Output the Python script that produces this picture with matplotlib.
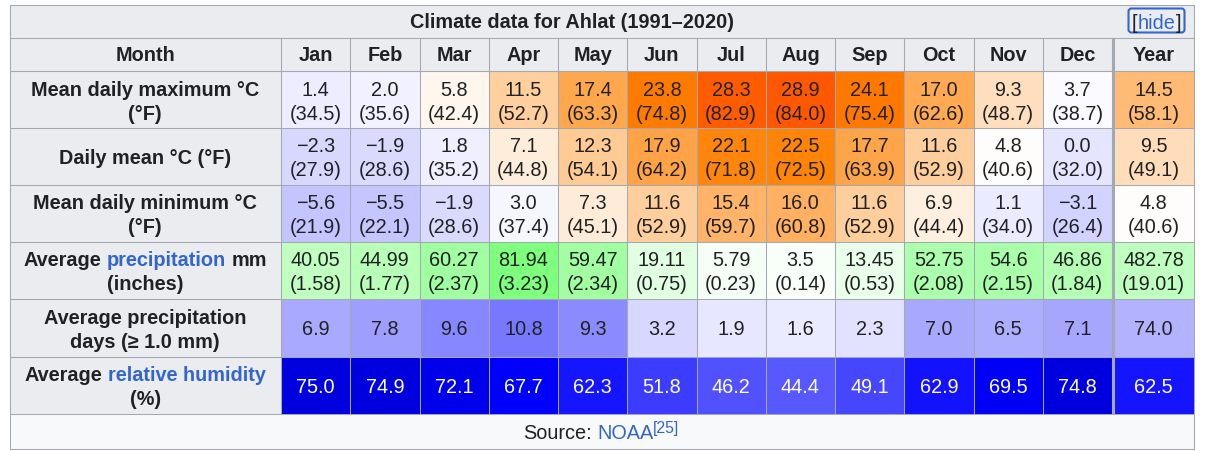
import matplotlib
matplotlib.use('Agg')
import matplotlib.pyplot as plt
from matplotlib.patches import Rectangle, FancyBboxPatch

# ---- data ----
columns = ['Jan', 'Feb', 'Mar', 'Apr', 'May', 'Jun', 'Jul', 'Aug', 'Sep', 'Oct', 'Nov', 'Dec', 'Year']
max_c = [1.4, 2.0, 5.8, 11.5, 17.4, 23.8, 28.3, 28.9, 24.1, 17.0, 9.3, 3.7, 14.5]
max_f = [34.5, 35.6, 42.4, 52.7, 63.3, 74.8, 82.9, 84.0, 75.4, 62.6, 48.7, 38.7, 58.1]
mean_c = [-2.3, -1.9, 1.8, 7.1, 12.3, 17.9, 22.1, 22.5, 17.7, 11.6, 4.8, 0.0, 9.5]
mean_f = [27.9, 28.6, 35.2, 44.8, 54.1, 64.2, 71.8, 72.5, 63.9, 52.9, 40.6, 32.0, 49.1]
min_c = [-5.6, -5.5, -1.9, 3.0, 7.3, 11.6, 15.4, 16.0, 11.6, 6.9, 1.1, -3.1, 4.8]
min_f = [21.9, 22.1, 28.6, 37.4, 45.1, 52.9, 59.7, 60.8, 52.9, 44.4, 34.0, 26.4, 40.6]
precip_mm = [40.05, 44.99, 60.27, 81.94, 59.47, 19.11, 5.79, 3.5, 13.45, 52.75, 54.6, 46.86, 482.78]
precip_in = [1.58, 1.77, 2.37, 3.23, 2.34, 0.75, 0.23, 0.14, 0.53, 2.08, 2.15, 1.84, 19.01]
precip_days = [6.9, 7.8, 9.6, 10.8, 9.3, 3.2, 1.9, 1.6, 2.3, 7.0, 6.5, 7.1, 74.0]
humidity = [75.0, 74.9, 72.1, 67.7, 62.3, 51.8, 46.2, 44.4, 49.1, 62.9, 69.5, 74.8, 62.5]

title = 'Climate data for Ahlat (1991\u20132020)'

K = '#202122'
BLUE = '#3366cc'
GRID = '#a2a9b1'
HEAD_BG = '#eaecf0'
FOOT_BG = '#f8f9fa'
FS = 14.3

plt.rcParams['font.family'] = ['Liberation Sans', 'DejaVu Sans']


def fmt1(v):
    return f'{v:.1f}'.replace('-', '\u2212')


def temp_rgb(t, year=False):
    if t < 4.5:
        v = max(0.0, 255 - (4.5 - t) * 5.8)
        return (v / 255, v / 255, 1.0)
    g = max(0.0, 255 - (t - 4.5) * 6.85)
    b = max(0.0, 255 - (t - 4.5) * 13.8)
    return (1.0, g / 255, b / 255)


def precip_rgb(mm, year=False):
    if year:
        mm = mm / 12
    v = max(0.0, 255 - mm * 1.58)
    return (v / 255, 1.0, v / 255)


def days_rgb(d, year=False):
    if year:
        d = d / 12
    v = max(0.0, 255 - d * 12.5)
    return (v / 255, v / 255, 1.0)


def hum_rgb(h, year=False):
    v = min(255.0, max(0.0, 255 - h * 3.76))
    b = 255.0 if h <= 67.8 else 255 - (h - 67.8) * 4.6
    return (v / 255, v / 255, b / 255)


rows = [
    ([[('Mean daily maximum °C', K)], [('(°F)', K)]],
     [fmt1(v) for v in max_c], ['(' + fmt1(v) + ')' for v in max_f], max_c, temp_rgb, K),
    ([[('Daily mean °C (°F)', K)]],
     [fmt1(v) for v in mean_c], ['(' + fmt1(v) + ')' for v in mean_f], mean_c, temp_rgb, K),
    ([[('Mean daily minimum °C', K)], [('(°F)', K)]],
     [fmt1(v) for v in min_c], ['(' + fmt1(v) + ')' for v in min_f], min_c, temp_rgb, K),
    ([[('Average', K), (' ', K), ('precipitation', BLUE), (' ', K), ('mm', K)], [('(inches)', K)]],
     [f'{v:g}' for v in precip_mm], [f'({v:.2f})' for v in precip_in], precip_mm, precip_rgb, K),
    ([[('Average precipitation', K)], [('days (\u2265 1.0 mm)', K)]],
     [fmt1(v) for v in precip_days], None, precip_days, days_rgb, K),
    ([[('Average', K), (' ', K), ('relative humidity', BLUE)], [('(%)', K)]],
     [fmt1(v) for v in humidity], None, humidity, hum_rgb, 'white'),
]

# ---- layout (pixels) ----
W, H = 1206, 452
fig = plt.figure(figsize=(W / 100, H / 100), dpi=100)
ax = fig.add_axes([0, 0, 1, 1])
ax.set_xlim(0, W)
ax.set_ylim(H, 0)
ax.axis('off')
renderer = fig.canvas.get_renderer()

left, right = 9.5, 1193.5
top, title_bot, head_bot = 5.5, 38.5, 71.5
row_edges = [71.5, 128.5, 185.5, 242.5, 299.5, 357.5, 414.5]
bottom = 449.5
lab_right = 281.0
col_edges = [lab_right + 69.25 * i for i in range(13)] + [right]
col_centers = [(col_edges[i] + col_edges[i + 1]) / 2 for i in range(12)]
col_centers.append((col_edges[12] + 1.5 + right) / 2)
lab_center = (left + lab_right) / 2


def text_width(s, **kw):
    t = ax.text(0, 0, s, **kw)
    w = t.get_window_extent(renderer).width
    t.remove()
    return w


def rich(xc, y, parts, size=FS, weight='bold'):
    sp = text_width('a a', fontsize=size, weight=weight) - text_width('aa', fontsize=size, weight=weight)
    widths = []
    for s, c in parts:
        if s.strip() == '':
            widths.append(sp * len(s))
        else:
            widths.append(text_width(s, fontsize=size, weight=weight))
    x = xc - sum(widths) / 2
    for (s, c), w in zip(parts, widths):
        if s.strip():
            ax.text(x, y, s, color=c, fontsize=size, weight=weight, ha='left', va='baseline')
        x += w


# backgrounds
ax.add_patch(Rectangle((left, top), right - left, head_bot - top, facecolor=HEAD_BG, edgecolor='none'))
ax.add_patch(Rectangle((left, row_edges[-1]), right - left, bottom - row_edges[-1], facecolor=FOOT_BG, edgecolor='none'))
for r, (labels, top_txt, bot_txt, vals, cfun, tcol) in enumerate(rows):
    y0, y1 = row_edges[r], row_edges[r + 1]
    ax.add_patch(Rectangle((left, y0), lab_right - left, y1 - y0, facecolor=HEAD_BG, edgecolor='none'))
    for c in range(13):
        ax.add_patch(Rectangle((col_edges[c], y0), col_edges[c + 1] - col_edges[c], y1 - y0,
                               facecolor=cfun(vals[c], c == 12), edgecolor='none'))

# grid lines
lw = 0.75
for y in [top, title_bot, head_bot] + row_edges + [bottom]:
    ax.plot([left, right], [y, y], color=GRID, lw=lw, solid_capstyle='butt')
for x in [left, right]:
    ax.plot([x, x], [top, bottom], color=GRID, lw=lw)
for x in col_edges[:-1]:
    ax.plot([x, x], [title_bot, row_edges[-1]], color=GRID, lw=lw)
ax.plot([col_edges[12] + 0.5, col_edges[12] + 0.5], [title_bot, row_edges[-1]], color=GRID, lw=2.2,
        solid_capstyle='butt')

# title + hide button
ax.text(572, 28, title, fontsize=FS, weight='bold', color=K, ha='center', va='baseline')
ax.add_patch(FancyBboxPatch((1128.5, 9.5), 56, 24, boxstyle='round,pad=0,rounding_size=3',
                            facecolor=HEAD_BG, edgecolor=BLUE, lw=1.5))
rich(1156.5, 29, [('[', K), ('hide', BLUE), (']', K)], weight='normal')

# header row
ax.text(lab_center, 61, 'Month', fontsize=FS, weight='bold', color=K, ha='center', va='baseline')
for c, name in enumerate(columns):
    ax.text(col_centers[c], 61, name, fontsize=FS, weight='bold', color=K, ha='center', va='baseline')

# data rows
for r, (labels, top_txt, bot_txt, vals, cfun, tcol) in enumerate(rows):
    y0, y1 = row_edges[r], row_edges[r + 1]
    yc = (y0 + y1) / 2
    if len(labels) == 2:
        rich(lab_center, yc - 4.5, labels[0])
        rich(lab_center, yc + 19.5, labels[1])
    else:
        rich(lab_center, yc + 7, labels[0])
    for c in range(13):
        if bot_txt is not None:
            ax.text(col_centers[c], yc - 4.5, top_txt[c], fontsize=FS, color=tcol, ha='center', va='baseline')
            ax.text(col_centers[c], yc + 19.5, bot_txt[c], fontsize=FS, color=tcol, ha='center', va='baseline')
        else:
            ax.text(col_centers[c], yc + 7, top_txt[c], fontsize=FS, color=tcol, ha='center', va='baseline')

# source row
w1 = text_width('Source:', fontsize=FS)
sp = text_width('a a', fontsize=FS) - text_width('aa', fontsize=FS)
w2 = text_width('NOAA', fontsize=FS)
w3 = text_width('[25]', fontsize=11.4)
x = (left + right) / 2 - (w1 + sp + w2 + w3) / 2
ax.text(x, 439, 'Source:', fontsize=FS, color=K, ha='left', va='baseline')
ax.text(x + w1 + sp, 439, 'NOAA', fontsize=FS, color=BLUE, ha='left', va='baseline')
ax.text(x + w1 + sp + w2 - 1, 433, '[25]', fontsize=11.4, color=BLUE, ha='left', va='baseline')

fig.savefig('out.png', dpi=100, facecolor='white')
